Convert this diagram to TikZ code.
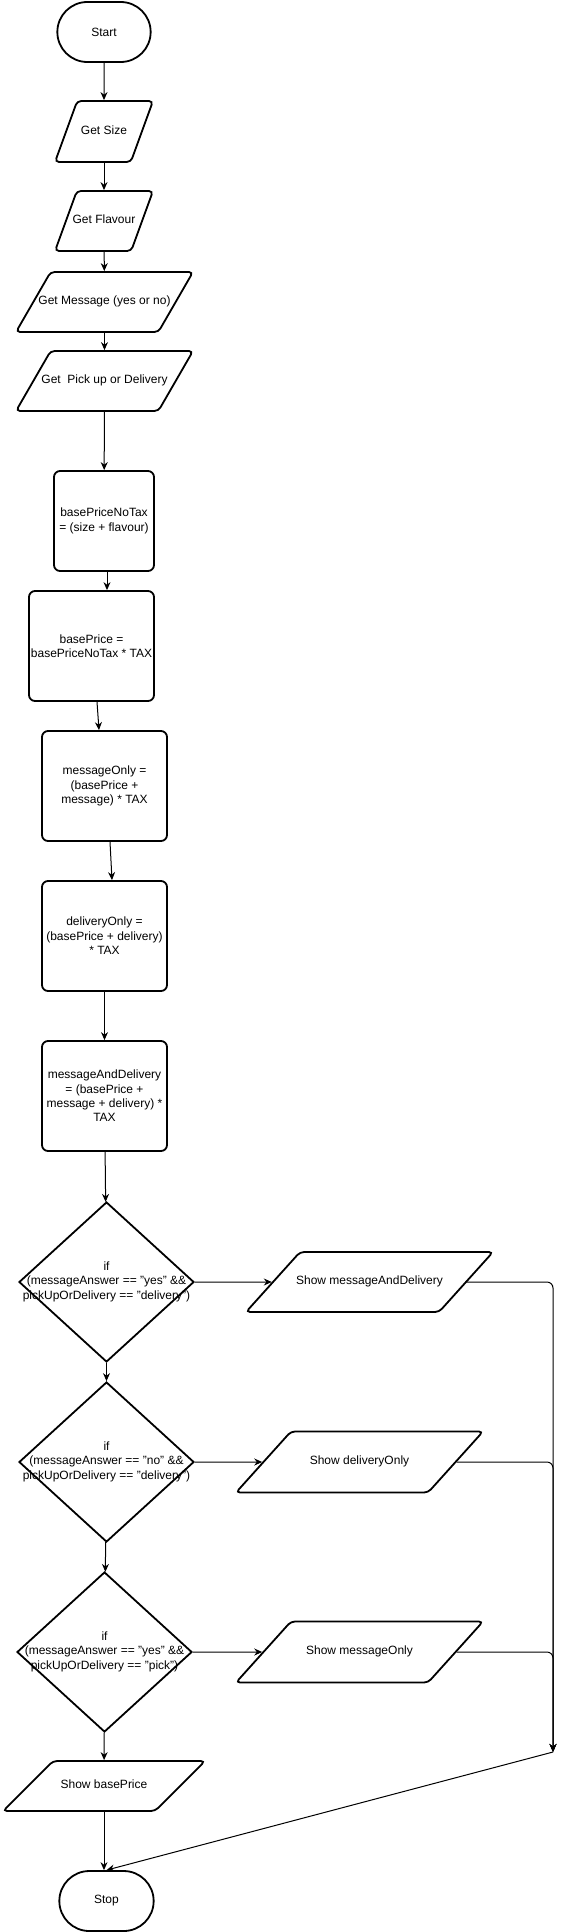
\documentclass[tikz,border=0pt]{standalone}
\usepackage{fontspec}
\setmainfont{Liberation Sans}
\usepackage{tikz}
\usetikzlibrary{arrows.meta,shapes.geometric,shapes.misc}

% text that may run over the border of its shape
\newcommand{\boxtext}[1]{\makebox[0pt]{\begin{tabular}{@{}c@{}}#1\end{tabular}}}

\begin{document}
\begin{tikzpicture}[
  x=1pt, y=-1pt,
  every node/.style={font=\fontsize{12}{14.4}\selectfont},
  terminal/.style={draw, rounded rectangle, line width=1.8pt, minimum width=100pt, minimum height=60pt},
  io/.style 2 args={draw, trapezium, trapezium left angle=#1, trapezium right angle=#2,
    trapezium stretches body, text height=9pt, text depth=3pt, inner xsep=1pt,
    rounded corners=4pt, line width=1.8pt},
  process/.style={draw, rectangle, rounded corners=6pt, line width=1.8pt, align=center, inner sep=1pt},
  decision/.style={draw, diamond, line width=1.8pt, minimum width=175pt, minimum height=160pt, inner sep=1pt},
  arrow/.style={-{Stealth[length=8pt,width=7pt]}, line width=1pt}
]
\useasboundingbox (0,0) rectangle (563,1932);

\node[terminal] (start) at (104,32) {Start};
\node[io={70}{110}, minimum width=98pt, inner ysep=24.5pt] (size) at (104,131.5) {\boxtext{Get Size}};
\node[io={70}{110}, minimum width=98pt, inner ysep=24pt] (flavour) at (104,221) {\boxtext{Get Flavour}};
\node[io={60}{120}, minimum width=177pt, inner ysep=24pt] (message) at (104.5,302) {\boxtext{Get Message (yes or no)}};
\node[io={60}{120}, minimum width=177pt, inner ysep=24pt] (pickup) at (104.5,381) {\boxtext{Get\ \ Pick up or Delivery}};

\node[process, minimum width=100pt, minimum height=100pt] (notax) at (104,521)
  {basePriceNoTax\\= (size + flavour)};
\node[process, minimum width=125pt, minimum height=110pt] (baseprice) at (91.5,646)
  {basePrice =\\basePriceNoTax * TAX};
\node[process, minimum width=125pt, minimum height=110pt] (msgonly) at (104.5,786)
  {messageOnly =\\(basePrice +\\message) * TAX};
\node[process, minimum width=125pt, minimum height=110pt] (delonly) at (104.5,936)
  {deliveryOnly =\\(basePrice + delivery)\\* TAX};
\node[process, minimum width=125pt, minimum height=110pt] (msgdel) at (104.5,1096)
  {messageAndDelivery\\= (basePrice +\\message + delivery) *\\TAX};

\node[decision] (ifone) at (106.5,1282)
  {\boxtext{if\\(messageAnswer == "yes" \&\&\\pickUpOrDelivery == "delivery")}};
\node[decision] (iftwo) at (106.5,1462)
  {\boxtext{if\\(messageAnswer == "no" \&\&\\pickUpOrDelivery == "delivery")}};
\node[decision] (ifthree) at (104.5,1652)
  {\boxtext{if\\(messageAnswer == "yes" \&\&\\pickUpOrDelivery == "pick")}};

\node[io={48}{132}, minimum width=247pt, inner ysep=24pt] (showmd) at (369.5,1282) {\boxtext{Show messageAndDelivery}};
\node[io={48}{132}, minimum width=247pt, inner ysep=24.5pt] (showdo) at (359.5,1462) {\boxtext{Show deliveryOnly}};
\node[io={48}{132}, minimum width=247pt, inner ysep=24.5pt] (showmo) at (359.5,1652) {\boxtext{Show messageOnly}};
\node[io={45}{135}, minimum width=202pt, inner ysep=19pt] (showbp) at (104,1786) {\boxtext{Show basePrice}};

\node[terminal, minimum width=101pt] (stop) at (106.5,1901) {Stop};

\coordinate (merge) at (553,1752);

% main column
\draw[arrow] (start) -- (size);
\draw[arrow] (size) -- (flavour);
\draw[arrow] (flavour) -- (message);
\draw[arrow] (message) -- (pickup);
\draw[arrow] (pickup) -- (notax);
\draw[arrow] ([xshift=3pt]notax.south) -- ([xshift=15.5pt]baseprice.north);
\draw[arrow] ([xshift=5.5pt]baseprice.south) -- ([xshift=-5.5pt]msgonly.north);
\draw[arrow] ([xshift=5.5pt]msgonly.south) -- ([xshift=7.5pt]delonly.north);
\draw[arrow] (delonly) -- (msgdel);
\draw[arrow] (msgdel) -- (ifone);
\draw[arrow] (ifone) -- (iftwo);
\draw[arrow] (iftwo) -- (ifthree);
\draw[arrow] (ifthree) -- (showbp);
\draw[arrow] (showbp) -- (showbp |- stop.north);

% branches
\draw[arrow] (ifone) -- (showmd);
\draw[arrow] (iftwo) -- (showdo);
\draw[arrow] (ifthree) -- (showmo);
\draw[arrow, rounded corners=6pt] (showmd.east) -| (merge);
\draw[arrow, rounded corners=6pt] (showdo.east) -| (merge);
\draw[arrow, rounded corners=6pt] (showmo.east) -| (merge);
\draw[arrow] (merge) -- (stop.north);

\end{tikzpicture}
\end{document}
